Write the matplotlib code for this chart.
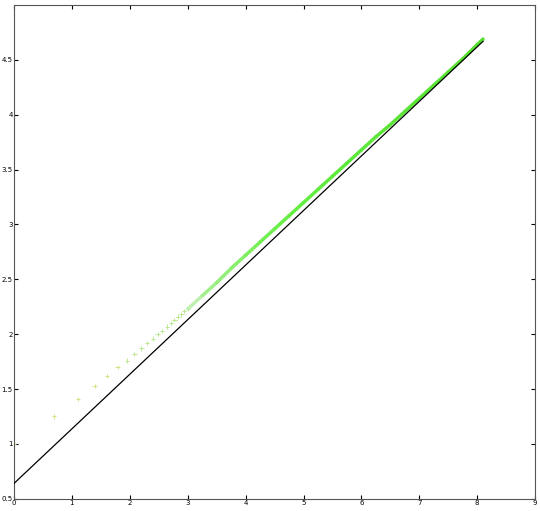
import numpy as np
import matplotlib
matplotlib.use("Agg")
import matplotlib.pyplot as plt
from matplotlib.collections import LineCollection
from matplotlib.colors import LinearSegmentedColormap

# sparse points (small x)
sparse_x = [0.0, 0.69, 1.10, 1.39, 1.61, 1.79, 1.95, 2.08, 2.20, 2.30, 2.40, 2.48, 2.56,
            2.64, 2.71, 2.77, 2.83, 2.89, 2.94, 3.00]
sparse_y = [1.00, 1.25, 1.41, 1.53, 1.62, 1.70, 1.76, 1.82, 1.87, 1.92, 1.96, 2.00, 2.03,
            2.07, 2.10, 2.13, 2.16, 2.18, 2.21, 2.23]
# dense part, read along the thick green band
dense_x = [3.0, 3.25, 3.5, 3.75, 4.0, 4.25, 4.5, 4.75, 5.0, 5.25, 5.5, 5.75, 6.0,
           6.25, 6.5, 6.75, 7.0, 7.25, 7.5, 7.75, 8.0, 8.1]
dense_y = [2.23, 2.35, 2.47, 2.60, 2.72, 2.84, 2.96, 3.08, 3.20, 3.32, 3.44, 3.56, 3.68,
           3.80, 3.91, 4.03, 4.15, 4.27, 4.39, 4.51, 4.64, 4.69]
# fitted line
line_x = [0.0, 8.1]
line_y = [0.64, 4.67]

fig = plt.figure(figsize=(5.4, 5.11), dpi=100)
ax = fig.add_axes([0.026, 0.024, 0.965, 0.966])

ax.scatter(sparse_x, sparse_y, marker="+", s=10,
           c=["#d8e080"] * 6 + ["#b8e890"] * (len(sparse_x) - 6),
           linewidths=0.7, zorder=2)

# band fades from pale to bright green
pts = np.column_stack([dense_x, dense_y])
segs = np.stack([pts[:-1], pts[1:]], axis=1)
cmap = LinearSegmentedColormap.from_list("g", ["#c0f0b0", "#66ee44", "#55e030"])
lc = LineCollection(segs, colors=cmap(np.linspace(0, 1, len(segs)) ** 0.6),
                    linewidths=2.5, capstyle="round", zorder=2)
ax.add_collection(lc)
ax.plot(line_x, line_y, color="black", lw=0.9, zorder=3)

ax.set_xlim(0, 9)
ax.set_ylim(0.5, 5.0)
ax.set_xticks(range(0, 10))
ax.set_yticks([0.5, 1, 1.5, 2, 2.5, 3, 3.5, 4, 4.5])
ax.set_yticklabels(["0.5", "1", "1.5", "2", "2.5", "3", "3.5", "4", "4.5"])
ax.tick_params(labelsize=5, direction="in", length=3, pad=1, top=True, right=True)
for s in ax.spines.values():
    s.set_color("#555555")
    s.set_linewidth(0.8)

fig.savefig("out.png")
